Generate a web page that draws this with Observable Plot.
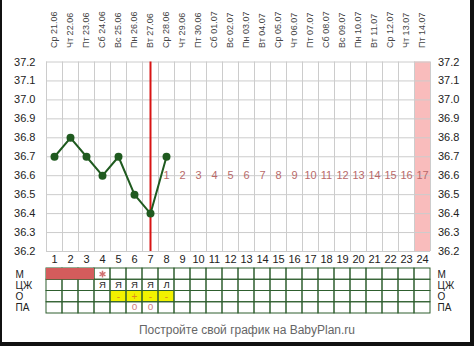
<!DOCTYPE html>
<html>
<head>
<meta charset="utf-8">
<script src="https://cdn.jsdelivr.net/npm/d3@7"></script>
<script src="https://cdn.jsdelivr.net/npm/@observablehq/plot@0.6"></script>
<style>
  html, body { margin: 0; padding: 0; background: #fff; }
  body { width: 474px; height: 346px; position: relative; overflow: hidden; font-family: "Liberation Sans", Arial, sans-serif; }
  svg { display: block; }
  #caption { height: 26px; line-height: 28px; font-size: 12px; color: #666; text-align: center; padding-left: 20px; }
  #frame { position: absolute; left: 0; top: 0; width: 474px; height: 346px; box-sizing: border-box;
           border-left: 2px solid #111; border-right: 4px solid #111; border-bottom: 4px solid #111; pointer-events: none; }
</style>
</head>
<body>
<div id="chart"></div>
<div id="caption">Постройте свой график на BabyPlan.ru</div>
<div id="frame"></div>
<script>
// ---- data ----
const days = [1,2,3,4,5,6,7,8,9,10,11,12,13,14,15,16,17,18,19,20,21,22,23,24];
const dates = ["Ср 21.06","Чт 22.06","Пт 23.06","Сб 24.06","Вс 25.06","Пн 26.06","Вт 27.06","Ср 28.06",
               "Чт 29.06","Пт 30.06","Сб 01.07","Вс 02.07","Пн 03.07","Вт 04.07","Ср 05.07","Чт 06.07",
               "Пт 07.07","Сб 08.07","Вс 09.07","Пн 10.07","Вт 11.07","Ср 12.07","Чт 13.07","Пт 14.07"];
const tempDays = [1,2,3,4,5,6,7,8];
const temps = [36.7, 36.8, 36.7, 36.6, 36.7, 36.5, 36.4, 36.7];
const yTicks = [36.2,36.3,36.4,36.5,36.6,36.7,36.8,36.9,37.0,37.1,37.2];
const ovulationDay = 7;
const phaseDays = [8,9,10,11,12,13,14,15,16,17,18,19,20,21,22,23,24];
const phaseNums = [1,2,3,4,5,6,7,8,9,10,11,12,13,14,15,16,17];
const phaseLevel = 36.6;
const highlightDay = 24;

const rows = ["М","ЦЖ","О","ПА"];
const mensesDays = [1,2,3];
const starDays = [4];
const mucusDays = [4,5,6,7,8];
const mucusMarks = ["Я","Я","Я","Я","Л"];
const testDays = [5,6,7,8];
const testMarks = ["-","+","-","-"];
const paDays = [6,7];

// ---- derived helpers ----
const gridX = days.map(d => d - 0.5).concat([days[days.length - 1] + 0.5]);
const xDomain = [0.5, 24.5];
const font = "'Liberation Sans', Arial, sans-serif";

const chart = Plot.plot({
  width: 474, height: 266,
  marginLeft: 46, marginRight: 44, marginTop: 61.5, marginBottom: 15,
  x: {domain: xDomain, axis: null},
  y: {domain: [36.2, 37.2], axis: null},
  style: {fontFamily: font, color: "#222", background: "transparent", overflow: "visible"},
  marks: [
    Plot.rect([highlightDay], {x1: d => d - 0.5, x2: d => d + 0.5, y1: 36.2, y2: 37.2, fill: "#f9bcbc"}),
    Plot.ruleX(gridX, {y1: 36.2, y2: 37.2, stroke: "#cccccc"}),
    Plot.ruleY(yTicks, {x1: 0.5, x2: 24.5, stroke: "#cccccc"}),
    Plot.axisY(yTicks, {anchor: "left", tickSize: 0, tickPadding: 11, tickFormat: d => d.toFixed(1), fontSize: 11}),
    Plot.axisY(yTicks, {anchor: "right", tickSize: 0, tickPadding: 7.5, tickFormat: d => d.toFixed(1), fontSize: 11}),
    Plot.axisX(days, {anchor: "bottom", tickSize: 0, tickPadding: 4, tickFormat: d => String(d), fontSize: 11}),
    Plot.text(days, {x: d => d, y: 37.2, text: (d, i) => dates[i], rotate: -90, textAnchor: "start",
                     lineAnchor: "middle", dy: -14, fontSize: 9, fill: "#444"}),
    Plot.ruleX([ovulationDay], {y1: 36.2, y2: 37.2, stroke: "#d81414", strokeWidth: 2}),
    Plot.text(phaseDays, {x: d => d, y: phaseLevel, text: (d, i) => String(phaseNums[i]), fontSize: 11, fill: "#b86a6a"}),
    Plot.line(tempDays, {x: d => d, y: (d, i) => temps[i], stroke: "#1f5a1f", strokeWidth: 2}),
    Plot.dot(tempDays, {x: d => d, y: (d, i) => temps[i], r: 4, fill: "#1f5a1f", stroke: "none"})
  ]
});

const cells = d3.cross(rows.map((r, i) => i), days);
const green = "#2e5e2e";
const table = Plot.plot({
  width: 474, height: 50,
  marginLeft: 46, marginRight: 44, marginTop: 2, marginBottom: 3,
  x: {domain: xDomain, axis: null},
  y: {domain: [rows.length, 0], axis: null},
  style: {fontFamily: font, color: "#222", background: "transparent", overflow: "visible"},
  marks: [
    Plot.rect(testDays, {x1: d => d - 0.5, x2: d => d + 0.5, y1: 2, y2: 3, fill: "#f2f200"}),
    Plot.rect(cells, {x1: d => d[1] - 0.5, x2: d => d[1] + 0.5, y1: d => d[0], y2: d => d[0] + 1,
                      fill: "none", stroke: green, strokeWidth: 1}),
    Plot.rect([mensesDays], {x1: d => d[0] - 0.5, x2: d => d[d.length - 1] + 0.5, y1: 0, y2: 1, fill: "#d35c5c"}),
    Plot.dot(starDays, {x: d => d, y: 0.5, symbol: "asterisk", r: 3.2, stroke: "#d07070", strokeWidth: 1.5}),
    Plot.text(mucusDays, {x: d => d, y: 1.5, text: (d, i) => mucusMarks[i], fontSize: 9.5, fill: "#222"}),
    Plot.text(testDays, {x: d => d, y: 2.5, text: (d, i) => testMarks[i], fontSize: 10, fill: "#e08a20"}),
    Plot.text(paDays, {x: d => d, y: 3.5, text: () => "o", fontSize: 10, dy: -1, fill: "#d08080"}),
    Plot.text([rows.join("\n")], {text: d => d, frameAnchor: "top-left", textAnchor: "start", lineAnchor: "top",
                                  dx: -31, dy: 2, fontSize: 10, lineHeight: 1.08, fill: "#222"}),
    Plot.text([rows.join("\n")], {text: d => d, frameAnchor: "top-right", textAnchor: "start", lineAnchor: "top",
                                  dx: 7, dy: 2, fontSize: 10, lineHeight: 1.08, fill: "#222"})
  ]
});

const holder = document.getElementById("chart");
holder.appendChild(chart);
holder.appendChild(table);
</script>
</body>
</html>
